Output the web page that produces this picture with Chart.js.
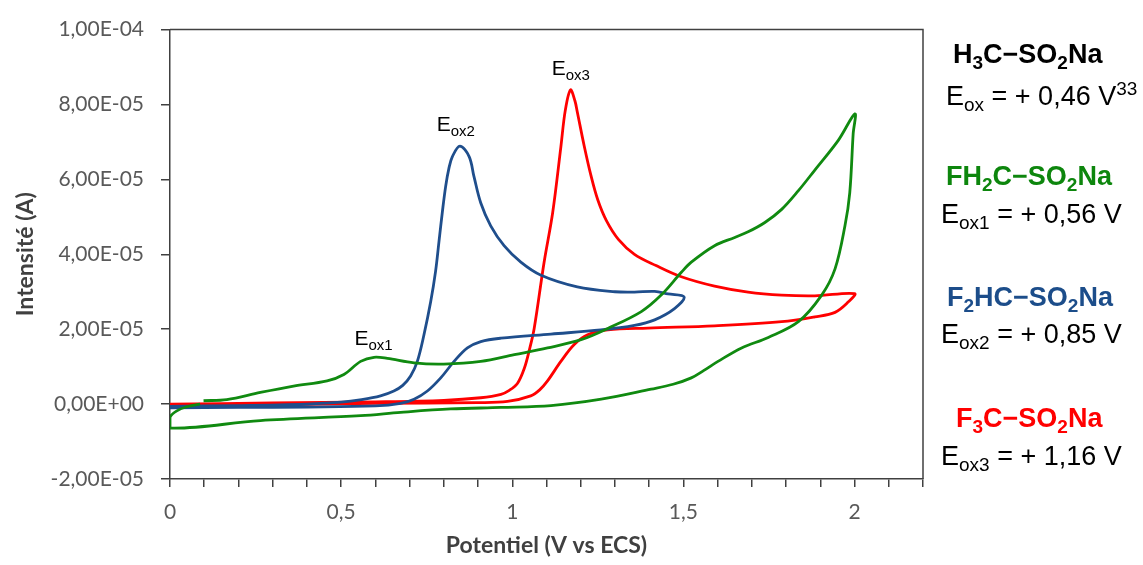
<!DOCTYPE html>
<html>
<head>
<meta charset="utf-8">
<script src="https://cdn.jsdelivr.net/npm/chart.js@4.4.1/dist/chart.umd.min.js"></script>
<style>
  html, body { margin: 0; padding: 0; background: #fff; }
  #wrap { position: relative; width: 1143px; height: 565px; }
</style>
</head>
<body>
<div id="wrap"><canvas id="cvChart" width="1143" height="565"></canvas></div>
<script>
// potentials (V vs ECS) and currents (in units of 1E-05 A)
const blueV = [0, 0.2, 0.4, 0.5, 0.56, 0.615, 0.654, 0.68, 0.703, 0.7226, 0.742, 0.7616, 0.776, 0.786, 0.796, 0.8055, 0.815, 0.825, 0.847, 0.874, 0.888, 0.908, 0.937, 0.976, 1.025, 1.084, 1.19, 1.30, 1.357, 1.416, 1.455, 1.502,
               1.474, 1.416, 1.357, 1.259, 1.113, 0.967, 0.908, 0.869, 0.83, 0.791, 0.752, 0.713, 0.674, 0.6, 0.4, 0.2, 0];
const blueI = [-0.06, -0.04, 0.0, 0.05, 0.12, 0.22, 0.35, 0.5, 0.75, 1.14, 1.85, 2.73, 3.55, 4.35, 5.15, 5.82, 6.3, 6.61, 6.89, 6.61, 6.08, 5.37, 4.76, 4.23, 3.79, 3.44, 3.13, 3.0, 2.99, 3.01, 2.94, 2.86,
               2.55, 2.25, 2.10, 1.98, 1.87, 1.76, 1.67, 1.50, 1.14, 0.70, 0.35, 0.13, 0.02, -0.05, -0.08, -0.09, -0.1];

const redV = [0, 0.3, 0.6, 0.8, 0.908, 0.967, 0.99, 1.015, 1.035, 1.05, 1.064, 1.093, 1.118, 1.142, 1.155, 1.17, 1.183, 1.19, 1.21, 1.23, 1.25, 1.275, 1.31, 1.357, 1.42, 1.494, 1.591, 1.689, 1.787, 1.884, 2.0,
              1.982, 1.943, 1.884, 1.787, 1.591, 1.396, 1.279, 1.22, 1.181, 1.142, 1.103, 1.08, 1.054, 0.986, 0.9, 0.6, 0.3, 0];
const redI = [0.0, 0.03, 0.06, 0.1, 0.17, 0.26, 0.36, 0.55, 0.95, 1.45, 2.02, 3.79, 5.11, 6.87, 7.85, 8.39, 8.1, 7.8, 6.9, 6.1, 5.45, 4.9, 4.4, 4.0, 3.7, 3.4, 3.15, 2.99, 2.91, 2.89, 2.95,
              2.73, 2.45, 2.33, 2.20, 2.09, 2.03, 1.98, 1.85, 1.59, 1.14, 0.62, 0.38, 0.22, 0.07, 0.04, 0.02, -0.02, -0.06];

const greenV = [0.098, 0.166, 0.264, 0.361, 0.459, 0.508, 0.557, 0.596, 0.635, 0.713, 0.80, 0.908, 1.006, 1.103, 1.201, 1.279, 1.377, 1.435, 1.494, 1.523, 1.591, 1.65, 1.689, 1.738, 1.787, 1.836, 1.884, 1.953, 2.001,
                1.996, 1.986, 1.972, 1.943, 1.904, 1.836, 1.748, 1.67, 1.601, 1.56, 1.523, 1.47, 1.406, 1.26, 1.113, 0.967, 0.82, 0.674, 0.557, 0.264, 0,
                0, 0.02, 0.049, 0.088];
const greenI = [0.09, 0.12, 0.31, 0.48, 0.62, 0.79, 1.14, 1.25, 1.22, 1.10, 1.07, 1.14, 1.32, 1.50, 1.72, 2.02, 2.47, 2.91, 3.52, 3.79, 4.23, 4.45, 4.6, 4.85, 5.2, 5.7, 6.25, 7.05, 7.75,
                7.22, 5.64, 4.76, 3.61, 2.91, 2.20, 1.78, 1.50, 1.14, 0.9, 0.70, 0.53, 0.40, 0.13, -0.04, -0.09, -0.13, -0.22, -0.31, -0.44, -0.64,
                -0.35, -0.18, -0.07, 0.0];

// peak labels: subscript text and anchor (V, 1E-05 A)
const peakNames = ["ox1", "ox2", "ox3"];
const peakV = [0.539, 0.779, 1.115];
const peakI = [1.57, 7.28, 8.78];

const axisColor = "#404040";
const tickColor = "#595959";

function toPoints(vs, is) {
    return vs.map(function (v, k) { return { x: v, y: is[k] }; });
}

function sciLabel(value) {
    if (Math.abs(value) < 1e-9) return "0,00E+00";
    const parts = (value * 1e-5).toExponential(2).split("e");
    const exp = parseInt(parts[1], 10);
    return parts[0].replace(".", ",") + "E" + (exp < 0 ? "-" : "+") + String(Math.abs(exp)).padStart(2, "0");
}

// draws a line of text made of runs (normal / sub / sup)
function drawRuns(ctx, x, y, runs, size, bold, color) {
    const fam = '"Liberation Sans", Arial, sans-serif';
    const w = bold ? "bold " : "";
    ctx.fillStyle = color;
    ctx.textBaseline = "alphabetic";
    ctx.textAlign = "left";
    runs.forEach(function (r) {
        let fs = size, dy = 0;
        if (r[1] === "sub") { fs = Math.round(size * 0.72); dy = size * 0.22; }
        if (r[1] === "sup") { fs = Math.round(size * 0.72); dy = -size * 0.36; }
        ctx.font = w + fs + "px " + fam;
        ctx.fillText(r[0], x, y + dy);
        x += ctx.measureText(r[0]).width;
    });
}

const framePlugin = {
    id: "frame",
    beforeDatasetsDraw: function (chart) {
        const a = chart.chartArea, ctx = chart.ctx;
        ctx.save();
        ctx.strokeStyle = axisColor;
        ctx.lineWidth = 1.5;
        ctx.beginPath();
        ctx.moveTo(a.left, a.top);
        ctx.lineTo(a.right, a.top);
        ctx.lineTo(a.right, a.bottom);
        ctx.stroke();
        ctx.restore();
    }
};

const textPlugin = {
    id: "notes",
    afterDraw: function (chart) {
        const ctx = chart.ctx;
        const xs = chart.scales.x, ys = chart.scales.y;
        ctx.save();
        for (let k = 0; k < peakNames.length; k++) {
            const px = xs.getPixelForValue(peakV[k]);
            const py = ys.getPixelForValue(peakI[k]);
            drawRuns(ctx, px, py, [["E"], [peakNames[k], "sub"]], 21, false, "#000");
        }
        const green = "#0d860d", blue = "#1c4d8a", red = "#ff0000";
        drawRuns(ctx, 953, 63, [["H"], ["3", "sub"], ["C\u2212SO"], ["2", "sub"], ["Na"]], 27, true, "#000");
        drawRuns(ctx, 946, 105, [["E"], ["ox", "sub"], [" = + 0,46 V"], ["33", "sup"]], 27, false, "#000");
        drawRuns(ctx, 946, 185, [["FH"], ["2", "sub"], ["C\u2212SO"], ["2", "sub"], ["Na"]], 27, true, green);
        drawRuns(ctx, 941, 223, [["E"], ["ox1", "sub"], [" = + 0,56 V"]], 27, false, "#000");
        drawRuns(ctx, 947, 306, [["F"], ["2", "sub"], ["HC\u2212SO"], ["2", "sub"], ["Na"]], 27, true, blue);
        drawRuns(ctx, 941, 343, [["E"], ["ox2", "sub"], [" = + 0,85 V"]], 27, false, "#000");
        drawRuns(ctx, 956, 427, [["F"], ["3", "sub"], ["C\u2212SO"], ["2", "sub"], ["Na"]], 27, true, red);
        drawRuns(ctx, 941, 465, [["E"], ["ox3", "sub"], [" = + 1,16 V"]], 27, false, "#000");
        ctx.restore();
    }
};

document.addEventListener("DOMContentLoaded", function () {
    const ctx = document.getElementById("cvChart").getContext("2d");

    const lineSet = function (label, vs, is, color) {
        return {
            label: label,
            data: toPoints(vs, is),
            borderColor: color,
            backgroundColor: color,
            borderWidth: 2.8,
            pointRadius: 0,
            showLine: true,
            fill: false,
            tension: 0.35
        };
    };

    new Chart(ctx, {
        type: "scatter",
        data: {
            datasets: [
                lineSet("FH2C-SO2Na", greenV, greenI, "#108a10"),
                lineSet("F2HC-SO2Na", blueV, blueI, "#1f4e8c"),
                lineSet("F3C-SO2Na", redV, redI, "#ff0000")
            ]
        },
        options: {
            responsive: false,
            animation: false,
            devicePixelRatio: 1,
            layout: { padding: { left: 0, right: 220, top: 25, bottom: 0 } },
            plugins: { legend: { display: false }, tooltip: { enabled: false } },
            scales: {
                x: {
                    type: "linear",
                    min: 0,
                    max: 2.2,
                    afterFit: function (s) { s.height = 86; },
                    border: { display: true, color: axisColor, width: 1.5 },
                    grid: { display: true, drawOnChartArea: false, drawTicks: true, tickLength: 8, color: axisColor, lineWidth: 1.5 },
                    ticks: {
                        stepSize: 0.1,
                        autoSkip: false,
                        maxRotation: 0,
                        padding: 13,
                        color: tickColor,
                        font: { family: "Lato", size: 21 },
                        callback: function (v) {
                            return Math.abs(v * 2 - Math.round(v * 2)) < 1e-6 ? String(Math.round(v * 2) / 2).replace(".", ",") : "";
                        }
                    },
                    title: {
                        display: true,
                        text: "Potentiel (V vs ECS)",
                        color: axisColor,
                        font: { family: "Lato", size: 23, weight: "bold", lineHeight: "30px" }
                    }
                },
                y: {
                    type: "linear",
                    min: -2,
                    max: 10,
                    afterFit: function (s) { s.width = 170; },
                    border: { display: true, color: axisColor, width: 1.5 },
                    grid: { display: true, drawOnChartArea: false, drawTicks: true, tickLength: 9, color: axisColor, lineWidth: 1.5 },
                    ticks: {
                        stepSize: 2,
                        padding: 17,
                        color: tickColor,
                        font: { family: "Lato", size: 21 },
                        callback: sciLabel
                    },
                    title: {
                        display: true,
                        text: "Intensité (A)",
                        color: axisColor,
                        font: { family: "Lato", size: 23, weight: "bold", lineHeight: "44px" }
                    }
                }
            }
        },
        plugins: [framePlugin, textPlugin]
    });
});
</script>
</body>
</html>
